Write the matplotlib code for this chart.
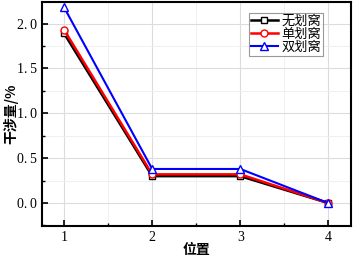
import matplotlib
matplotlib.use("Agg")
import matplotlib.pyplot as plt
from matplotlib.ticker import MultipleLocator, FuncFormatter

positions = [1, 2, 3, 4]
none_vals = [1.89, 0.30, 0.30, 0.00]
single_vals = [1.93, 0.32, 0.32, 0.00]
double_vals = [2.18, 0.38, 0.38, 0.00]
labels = ["无划窝", "单划窝", "双划窝"]

plt.rcParams['font.family'] = ['Liberation Serif', 'Noto Sans CJK SC']
fig = plt.figure(figsize=(3.54, 2.6), dpi=100)
ax = fig.add_axes([0.119, 0.131, 0.873, 0.861])

ax.plot(positions, none_vals, color='black', marker='s', mfc='white', mec='black', ms=5, lw=1.8, label=labels[0], zorder=3)
ax.plot(positions, single_vals, color='red', marker='o', mfc='white', mec='red', ms=5, lw=1.8, label=labels[1], zorder=4)
ax.plot(positions, double_vals, color='blue', marker='^', mfc='white', mec='blue', ms=6, lw=1.5, label=labels[2], zorder=5)

ax.set_xlim(0.75, 4.26)
ax.set_ylim(-0.255, 2.24)
ax.xaxis.set_major_locator(MultipleLocator(1))
ax.xaxis.set_minor_locator(MultipleLocator(0.5))
ax.yaxis.set_major_locator(MultipleLocator(0.5))
ax.yaxis.set_minor_locator(MultipleLocator(0.25))
ax.yaxis.set_major_formatter(FuncFormatter(lambda v, p: f"{v:.1f}".replace('.', '.\u2009')))
ax.grid(which='major', color='#dcdcdc', lw=0.8, zorder=0)
ax.grid(which='minor', color='#eeeeee', lw=0.6, zorder=0)
ax.tick_params(which='both', direction='in', labelsize=10)
ax.tick_params(which='major', length=4, width=1.2)
ax.tick_params(which='minor', length=2, width=1)
for s in ax.spines.values():
    s.set_linewidth(1.5)

ax.set_xlabel("位置", fontsize=10, fontweight='bold', family=['Noto Sans CJK SC'])
ax.xaxis.set_label_coords(0.5, -0.076)
ax.set_ylabel("干涉量/%", fontsize=10, fontweight='bold', family=['Noto Sans CJK SC'],
              va='center', ha='center')
ax.yaxis.set_label_coords(-0.102, 0.5)

leg = ax.legend(loc='upper right', bbox_to_anchor=(0.91, 0.953), frameon=True, fancybox=False,
                edgecolor='#808080', handlelength=2.0, handletextpad=0.3, borderpad=0.15, labelspacing=0.0,
                borderaxespad=0.0, prop={'family': ['Noto Sans CJK SC'], 'size': 9.5})
leg.get_frame().set_linewidth(0.8)

fig.savefig("out.png", dpi=100)
